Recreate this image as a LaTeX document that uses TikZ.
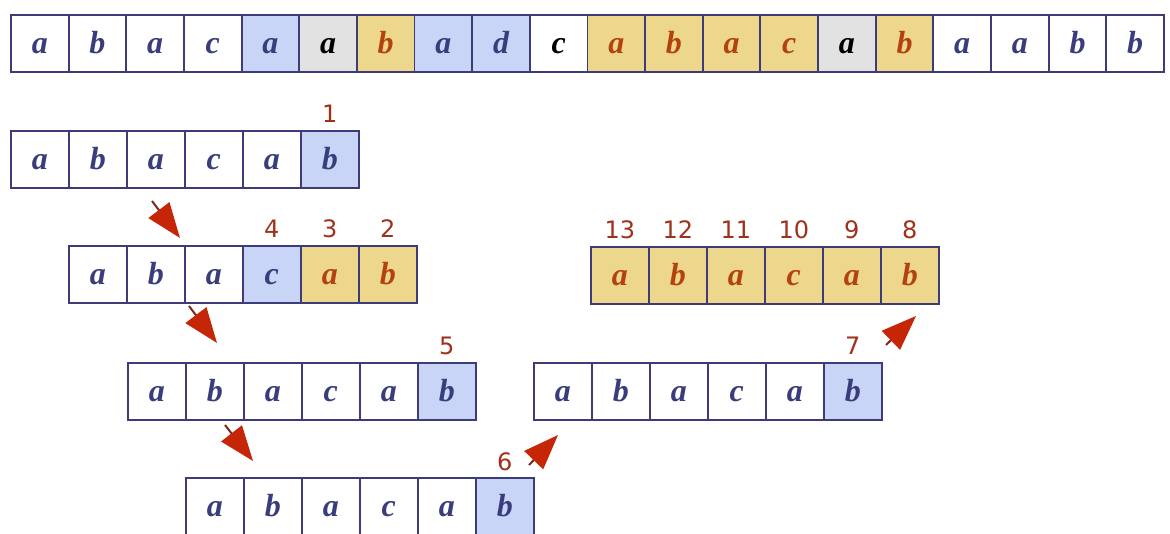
\documentclass[tikz,border=0pt]{standalone}
\usepackage{fontspec}
\setmainfont{Liberation Serif}
\newfontfamily\numfont{DejaVu Sans}
\usetikzlibrary{arrows.meta}
\definecolor{cellline}{HTML}{3D3B78}
\definecolor{cblue}{HTML}{C9D5F6}
\definecolor{cyellow}{HTML}{ECD78C}
\definecolor{cgray}{HTML}{E2E2E2}
\definecolor{letnavy}{HTML}{3A3D7C}
\definecolor{letorange}{HTML}{B4420E}
\definecolor{numred}{HTML}{A0301A}
\definecolor{arrred}{HTML}{C52608}
\definecolor{arrshaft}{HTML}{7A2A14}
\begin{document}
\begin{tikzpicture}[x=1pt,y=-1pt,
  cell/.style={draw=cellline,line width=1.9pt,minimum width=57.7pt,minimum height=57pt,
    inner sep=0pt,anchor=north west,text height=21pt,text depth=0pt,
    font=\fontsize{32}{32}\selectfont\bfseries\itshape,text=letnavy,fill=white},
  wc/.style={fill=white},
  bc/.style={fill=cblue},
  yc/.style={fill=cyellow,text=letorange},
  gc/.style={fill=cgray,text=black},
  kc/.style={fill=white,text=black},
  numlbl/.style={font=\numfont\fontsize{24}{24}\selectfont,text=numred,anchor=base,inner sep=0pt},
  arr/.style={draw=arrshaft,line width=2pt,-{Triangle[length=35pt,width=26pt,color=arrred]}}]
\useasboundingbox (0,0) rectangle (1170,534);
% text row
\foreach \l/\s [count=\i] in {a/wc,b/wc,a/wc,c/wc,a/bc,a/gc,b/yc,a/bc,d/bc,c/kc,a/yc,b/yc,a/yc,c/yc,a/gc,b/yc,a/wc,a/wc,b/wc,b/wc}
  \node[cell,\s] (t\i) at ({10+57.65*(\i-1)},14) {\l};
% pattern rows
\foreach \l/\s [count=\i] in {a/wc,b/wc,a/wc,c/wc,a/wc,b/bc}
  \node[cell,\s] (pa\i) at ({10+58*(\i-1)},130) {\l};
\foreach \l/\s [count=\i] in {a/wc,b/wc,a/wc,c/bc,a/yc,b/yc}
  \node[cell,\s] (pb\i) at ({68+58*(\i-1)},245) {\l};
\foreach \l/\s [count=\i] in {a/wc,b/wc,a/wc,c/wc,a/wc,b/bc}
  \node[cell,\s] (pc\i) at ({127+58*(\i-1)},362) {\l};
\foreach \l/\s [count=\i] in {a/wc,b/wc,a/wc,c/wc,a/wc,b/bc}
  \node[cell,\s] (pd\i) at ({185+58*(\i-1)},477) {\l};
\foreach \l/\s [count=\i] in {a/wc,b/wc,a/wc,c/wc,a/wc,b/bc}
  \node[cell,\s] (pe\i) at ({533+58*(\i-1)},362) {\l};
\foreach \l/\s [count=\i] in {a/yc,b/yc,a/yc,c/yc,a/yc,b/yc}
  \node[cell,\s] (pf\i) at ({590+58*(\i-1)},246) {\l};
% labels
\node[numlbl] (n1) at ([yshift=7pt]pa6.north) {1};
\node[numlbl] (n2) at ([yshift=7pt]pb6.north) {2};
\node[numlbl] (n3) at ([yshift=7pt]pb5.north) {3};
\node[numlbl] (n4) at ([yshift=7pt]pb4.north) {4};
\node[numlbl] (n5) at ([yshift=7pt]pc6.north) {5};
\node[numlbl] (n6) at ([yshift=7pt]pd6.north) {6};
\node[numlbl] (n7) at ([yshift=7pt]pe6.north) {7};
\node[numlbl] (n8) at ([yshift=7pt]pf6.north) {8};
\node[numlbl] (n9) at ([yshift=7pt]pf5.north) {9};
\node[numlbl] (n10) at ([yshift=7pt]pf4.north) {10};
\node[numlbl] (n11) at ([yshift=7pt]pf3.north) {11};
\node[numlbl] (n12) at ([yshift=7pt]pf2.north) {12};
\node[numlbl] (n13) at ([yshift=7pt]pf1.north) {13};
% arrows
\coordinate (a1s) at (152,201); \coordinate (a1e) at (180,238);
\coordinate (a2s) at (189,306); \coordinate (a2e) at (217,343);
\coordinate (a3s) at (225,425); \coordinate (a3e) at (253,461);
\coordinate (a4s) at (529,465); \coordinate (a4e) at (558,435);
\coordinate (a5s) at (886,345); \coordinate (a5e) at (916,316);
\draw[arr] (a1s) -- (a1e);
\draw[arr] (a2s) -- (a2e);
\draw[arr] (a3s) -- (a3e);
\draw[arr] (a4s) -- (a4e);
\draw[arr] (a5s) -- (a5e);
\end{tikzpicture}
\end{document}
